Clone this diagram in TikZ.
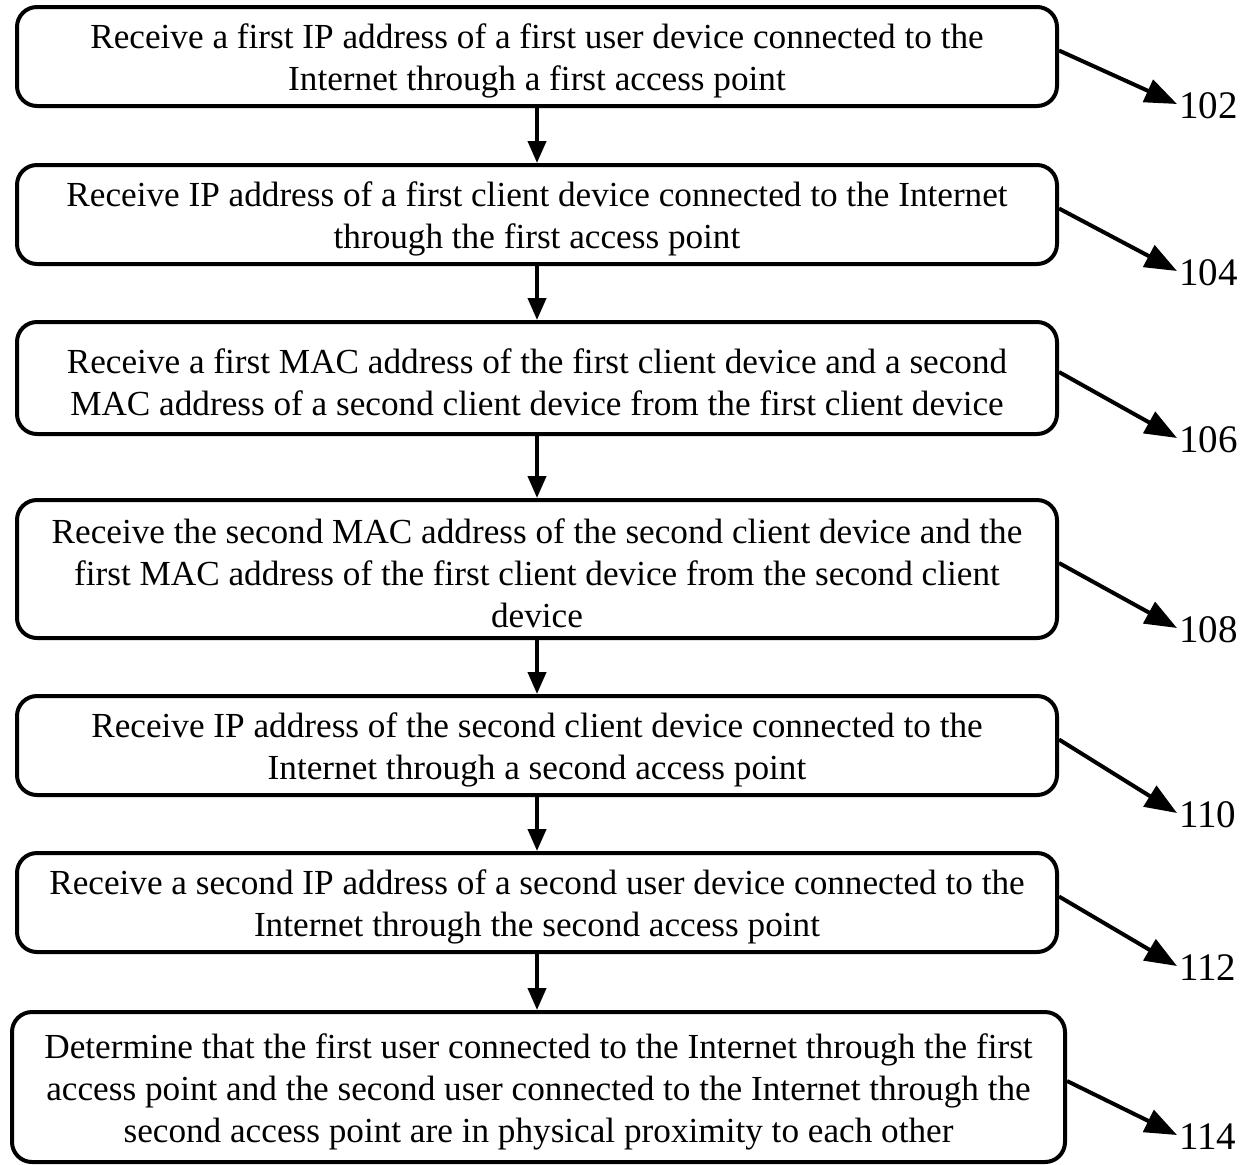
\documentclass[tikz,border=0pt]{standalone}
\usepackage{fontspec}
\setmainfont{Liberation Serif}
\usetikzlibrary{arrows.meta}
\newcommand{\topstrut}{\rule{0pt}{17pt}}
\begin{document}
\begin{tikzpicture}[x=0.5pt,y=-0.5pt,
  stepbox/.style={draw,line width=2pt,rounded corners=10pt,align=center,
    minimum width=520pt,inner sep=0pt,font=\fontsize{17.6}{21}\selectfont},
  lbl/.style={font=\fontsize{19.5}{21}\selectfont,inner sep=1pt,anchor=west},
  down/.style={line width=2pt,-{Triangle[length=11pt,width=9pt]}},
  side/.style={line width=2pt,-{Triangle[length=16pt,width=12pt]}}]
\useasboundingbox (0,0) rectangle (1252,1164);
\node[stepbox,minimum height=49.5pt] (b1) at (537,56.5) {\topstrut Receive a first IP address of a first user device connected to the\\Internet through a first access point};
\node[stepbox,minimum height=49.5pt] (b2) at (537,214.5) {\topstrut Receive IP address of a first client device connected to the Internet\\through the first access point};
\node[stepbox,minimum height=56pt] (b3) at (537,378) {\topstrut Receive a first MAC address of the first client device and a second\\MAC address of a second client device from the first client device};
\node[stepbox,minimum height=69pt] (b4) at (537,569) {\topstrut Receive the second MAC address of the second client device and the\\first MAC address of the first client device from the second client\\device};
\node[stepbox,minimum height=49.5pt] (b5) at (537,745.5) {\topstrut Receive IP address of the second client device connected to the\\Internet through a second access point};
\node[stepbox,minimum height=49.5pt] (b6) at (537,902.5) {\topstrut Receive a second IP address of a second user device connected to the\\Internet through the second access point};
\node[stepbox,minimum height=75pt,minimum width=526.5pt] (b7) at (538.5,1087) {\topstrut Determine that the first user connected to the Internet through the first\\access point and the second user connected to the Internet through the\\second access point are in physical proximity to each other};
\node[lbl] (l1) at (1177,106) {102};
\node[lbl] (l2) at (1177,273) {104};
\node[lbl] (l3) at (1177,440) {106};
\node[lbl] (l4) at (1177,630) {108};
\node[lbl] (l5) at (1177,815) {110};
\node[lbl] (l6) at (1177,968) {112};
\node[lbl] (l7) at (1177,1137) {114};
\foreach \a/\b in {b1/b2,b2/b3,b3/b4,b4/b5,b5/b6,b6/b7}
  \draw[down] (\a.south) -- (\a.south |- \b.north);
\foreach \i in {1,...,7}
  \draw[side] ([yshift=3pt]b\i.east) -- ([yshift=1pt]l\i.west);
\end{tikzpicture}
\end{document}
